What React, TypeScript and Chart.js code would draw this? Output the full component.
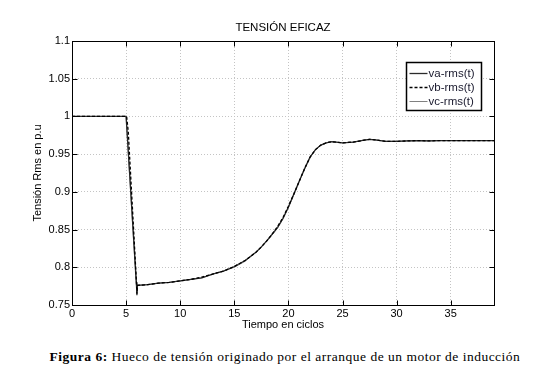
import React, { useEffect, useRef } from "react";
import { Chart, registerables } from "chart.js";

Chart.register(...registerables);

const chartTitle = "TENSIÓN EFICAZ";
const xAxisTitle = "Tiempo en ciclos";
const yAxisTitle = "Tensión Rms en p.u";
const captionLead = "Figura 6:";
const captionText = " Hueco de tensión originado por el arranque de un motor de inducción";

const xTicks = [0, 5, 10, 15, 20, 25, 30, 35];
const xTickLabels = ["0", "5", "10", "15", "20", "25", "30", "35"];
const yTicks = [0.75, 0.8, 0.85, 0.9, 0.95, 1, 1.05, 1.1];
const yTickLabels = ["0.75", "0.8", "0.85", "0.9", "0.95", "1", "1.05", "1.1"];

const seriesLabels = ["va-rms(t)", "vb-rms(t)", "vc-rms(t)"];

const vaTime = [0, 5.0, 5.95, 6.0, 6.05, 7, 8, 9, 10, 11, 12, 13, 14, 15, 16, 17, 17.5, 18, 18.5, 19, 19.5, 20, 20.5, 21, 21.5, 22, 22.5, 23, 23.5, 24, 25, 26, 27, 27.5, 28, 29, 30, 31, 32, 33, 34, 35, 36, 37, 38, 39];
const vaValues = [1.0, 1.0, 0.78, 0.763, 0.776, 0.777, 0.779, 0.78, 0.782, 0.784, 0.786, 0.791, 0.795, 0.801, 0.809, 0.82, 0.827, 0.835, 0.844, 0.853, 0.865, 0.88, 0.897, 0.914, 0.931, 0.946, 0.956, 0.962, 0.965, 0.9665, 0.965, 0.966, 0.9685, 0.9697, 0.969, 0.967, 0.967, 0.9675, 0.968, 0.9675, 0.968, 0.968, 0.968, 0.968, 0.968, 0.968];

const vbTime = [0, 5.05, 5.2, 5.95, 6.0, 6.05, 7, 8, 9, 10, 11, 12, 13, 14, 15, 16, 17, 17.5, 18, 18.5, 19, 19.5, 20, 20.5, 21, 21.5, 22, 22.5, 23, 23.5, 24, 25, 26, 27, 27.5, 28, 29, 30, 31, 32, 33, 34, 35, 36, 37, 38, 39];
const vbValues = [1.0, 1.0, 0.98, 0.782, 0.765, 0.776, 0.777, 0.779, 0.78, 0.782, 0.784, 0.787, 0.791, 0.795, 0.801, 0.809, 0.82, 0.827, 0.835, 0.844, 0.854, 0.866, 0.881, 0.897, 0.914, 0.931, 0.946, 0.956, 0.962, 0.965, 0.9665, 0.965, 0.966, 0.9685, 0.9697, 0.969, 0.967, 0.967, 0.9675, 0.968, 0.9675, 0.968, 0.968, 0.968, 0.968, 0.968, 0.968];

const vcTime = [0, 5.0, 5.9, 6.0, 6.05, 7, 8, 9, 10, 11, 12, 13, 14, 15, 16, 17, 17.5, 18, 18.5, 19, 19.5, 20, 20.5, 21, 21.5, 22, 22.5, 23, 23.5, 24, 25, 26, 27, 27.5, 28, 29, 30, 31, 32, 33, 34, 35, 36, 37, 38, 39];
const vcValues = [1.0, 1.0, 0.785, 0.768, 0.776, 0.777, 0.779, 0.78, 0.782, 0.784, 0.786, 0.791, 0.795, 0.8, 0.808, 0.82, 0.827, 0.835, 0.843, 0.852, 0.864, 0.879, 0.896, 0.914, 0.93, 0.946, 0.956, 0.962, 0.965, 0.9665, 0.965, 0.966, 0.9685, 0.9697, 0.969, 0.967, 0.967, 0.9675, 0.968, 0.9675, 0.968, 0.968, 0.968, 0.968, 0.968, 0.968];

const sansFont = '"Liberation Sans", Arial, sans-serif';

const toPoints = (t: number[], v: number[]) => t.map((x, i) => ({ x, y: v[i] }));

const framePlugin = {
  id: "matlabFrame",
  afterDatasetsDraw(chart: any) {
    const { ctx, chartArea, scales } = chart;
    const { left, right, top, bottom } = chartArea;
    ctx.save();
    ctx.strokeStyle = "#000";
    ctx.lineWidth = 1;
    ctx.setLineDash([]);
    const l = Math.round(left) + 0.5;
    const r = Math.round(right) + 0.5;
    const t = Math.round(top) + 0.5;
    const b = Math.round(bottom) + 0.5;
    ctx.strokeRect(l, t, r - l, b - t);
    const tl = 5;
    ctx.beginPath();
    xTicks.forEach((v) => {
      const px = Math.round(scales.x.getPixelForValue(v)) + 0.5;
      ctx.moveTo(px, b);
      ctx.lineTo(px, b - tl);
      ctx.moveTo(px, t);
      ctx.lineTo(px, t + tl);
    });
    yTicks.forEach((v) => {
      const py = Math.round(scales.y.getPixelForValue(v)) + 0.5;
      ctx.moveTo(l, py);
      ctx.lineTo(l + tl, py);
      ctx.moveTo(r, py);
      ctx.lineTo(r - tl, py);
    });
    ctx.stroke();
    ctx.fillStyle = "#000";
    ctx.font = `11.5px ${sansFont}`;
    ctx.textAlign = "center";
    ctx.textBaseline = "middle";
    ctx.fillText(chartTitle, (left + right) / 2, top - 13);
    ctx.restore();
  },
  afterDraw(chart: any) {
    const { ctx, chartArea, data } = chart;
    const boxW = 75;
    const boxH = 48;
    const bx = Math.round(chartArea.right - 13 - boxW) + 0.5;
    const by = Math.round(chartArea.top + 21) + 0.5;
    ctx.save();
    ctx.fillStyle = "#fff";
    ctx.fillRect(bx, by, boxW, boxH);
    ctx.strokeStyle = "#000";
    ctx.lineWidth = 1.5;
    ctx.setLineDash([]);
    ctx.strokeRect(bx, by, boxW, boxH);
    ctx.font = `11.5px ${sansFont}`;
    ctx.textAlign = "left";
    ctx.textBaseline = "middle";
    data.datasets.forEach((ds: any, i: number) => {
      const cy = by + 11 + i * 14;
      ctx.strokeStyle = ds.borderColor;
      ctx.lineWidth = ds.borderWidth;
      ctx.setLineDash(ds.borderDash || []);
      ctx.beginPath();
      ctx.moveTo(bx + 3, cy);
      ctx.lineTo(bx + 21, cy);
      ctx.stroke();
      ctx.fillStyle = "#1a1a2e";
      ctx.fillText(ds.label, bx + 22, cy);
    });
    ctx.restore();
  },
};

export default function App() {
  const canvasRef = useRef<HTMLCanvasElement | null>(null);

  useEffect(() => {
    const canvas = canvasRef.current;
    if (!canvas) return;
    const tickFont = { family: sansFont, size: 11 };
    const chart = new Chart(canvas, {
      type: "line",
      data: {
        datasets: [
          {
            label: seriesLabels[0],
            data: toPoints(vaTime, vaValues),
            borderColor: "#2b2b2b",
            borderWidth: 1.3,
            pointRadius: 0,
            tension: 0,
            order: 1,
          },
          {
            label: seriesLabels[1],
            data: toPoints(vbTime, vbValues),
            borderColor: "#000000",
            borderWidth: 1.3,
            borderDash: [3, 2],
            pointRadius: 0,
            tension: 0,
            order: 0,
          },
          {
            label: seriesLabels[2],
            data: toPoints(vcTime, vcValues),
            borderColor: "#808080",
            borderWidth: 1,
            pointRadius: 0,
            tension: 0,
            order: 2,
          },
        ],
      },
      options: {
        responsive: false,
        animation: false,
        events: [],
        layout: { padding: { left: 0, right: 59, top: 41, bottom: 0 } },
        plugins: {
          legend: { display: false },
          title: { display: false },
          tooltip: { enabled: false },
        },
        scales: {
          x: {
            type: "linear",
            min: 0,
            max: 39,
            afterBuildTicks: (s: any) => {
              s.ticks = xTicks.map((v) => ({ value: v }));
            },
            afterFit: (s: any) => {
              s.height = 35;
            },
            grid: { color: "#c4c4c4", lineWidth: 1, drawTicks: false },
            border: { display: false, dash: [1, 2] },
            ticks: {
              padding: 2,
              font: tickFont,
              color: "#000",
              maxRotation: 0,
              autoSkip: false,
              callback: (v: any) => xTickLabels[xTicks.indexOf(v)] ?? "",
            },
            title: {
              display: true,
              text: xAxisTitle,
              font: tickFont,
              color: "#000",
              padding: { top: 0, bottom: 8.4 },
            },
          },
          y: {
            type: "linear",
            min: 0.75,
            max: 1.1,
            afterBuildTicks: (s: any) => {
              s.ticks = yTicks.map((v) => ({ value: v }));
            },
            afterFit: (s: any) => {
              s.width = 72;
            },
            grid: { color: "#c4c4c4", lineWidth: 1, drawTicks: false },
            border: { display: false, dash: [1, 2] },
            ticks: {
              padding: 2,
              font: tickFont,
              color: "#000",
              autoSkip: false,
              callback: (v: any) => yTickLabels[yTicks.indexOf(v)] ?? "",
            },
            title: {
              display: true,
              text: yAxisTitle,
              font: tickFont,
              color: "#000",
              padding: { top: 31.4, bottom: 0 },
            },
          },
        },
      },
      plugins: [framePlugin],
    } as any);
    return () => chart.destroy();
  }, []);

  return (
    <div
      style={{
        position: "fixed",
        left: 0,
        top: 0,
        width: 553,
        height: 372,
        background: "#fff",
        overflow: "hidden",
      }}
    >
      <canvas ref={canvasRef} width={553} height={340} style={{ display: "block" }} />
      <div
        style={{
          position: "absolute",
          left: 8.5,
          top: 349,
          width: 553,
          textAlign: "center",
          fontFamily: '"Liberation Serif", "Times New Roman", serif',
          fontSize: 13.5,
          letterSpacing: "0.5px",
          lineHeight: "16px",
          color: "#000",
          whiteSpace: "nowrap",
        }}
      >
        <b>{captionLead}</b>
        {captionText}
      </div>
    </div>
  );
}
